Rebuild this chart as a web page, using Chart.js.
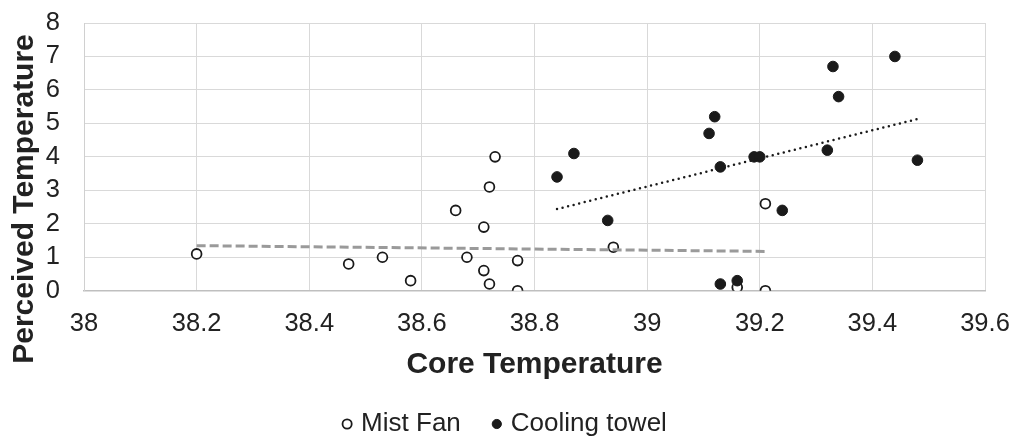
<!DOCTYPE html>
<html>
<head>
<meta charset="utf-8">
<title>Core vs perceived temperature</title>
<script src="https://cdn.jsdelivr.net/npm/chart.js@4.4.1/dist/chart.umd.min.js"></script>
<style>
  html, body { margin: 0; padding: 0; background: #fff; }
  #wrap { width: 1013px; height: 442px; }
</style>
</head>
<body>
<div id="wrap"><canvas id="chart" width="1013" height="442"></canvas></div>
<script>
// Mist Fan (open circles)
const mistCore = [38.2, 38.47, 38.53, 38.58, 38.66, 38.68, 38.71, 38.71, 38.72, 38.72, 38.73, 38.77, 38.77, 38.94, 39.16, 39.21, 39.21];
const mistPerceived = [1.1, 0.8, 1.0, 0.3, 2.4, 1.0, 1.9, 0.6, 3.1, 0.2, 4.0, 0.9, 0.0, 1.3, 0.1, 2.6, 0.0];

// Cooling towel (filled circles)
const towelCore = [38.84, 38.87, 38.93, 39.11, 39.12, 39.13, 39.13, 39.16, 39.19, 39.20, 39.24, 39.32, 39.33, 39.34, 39.44, 39.48];
const towelPerceived = [3.4, 4.1, 2.1, 4.7, 5.2, 3.7, 0.2, 0.3, 4.0, 4.0, 2.4, 4.2, 6.7, 5.8, 7.0, 3.9];

const seriesNames = ['Mist Fan', 'Cooling towel'];

const xTicks = [38, 38.2, 38.4, 38.6, 38.8, 39, 39.2, 39.4, 39.6];
const xTickLabels = ['38', '38.2', '38.4', '38.6', '38.8', '39', '39.2', '39.4', '39.6'];
const yTicks = [0, 1, 2, 3, 4, 5, 6, 7, 8];
const yTickLabels = ['0', '1', '2', '3', '4', '5', '6', '7', '8'];

const FONT = "'Liberation Sans', Arial, sans-serif";
const INK = '#222';

function toPoints(xs, ys) {
  return xs.map((x, i) => ({ x: x, y: ys[i] }));
}

// linear least-squares trendline, spanning the series' own x range
function trendline(xs, ys) {
  const n = xs.length;
  const mx = xs.reduce((a, b) => a + b, 0) / n;
  const my = ys.reduce((a, b) => a + b, 0) / n;
  let sxy = 0, sxx = 0;
  xs.forEach((x, i) => {
    sxy += (x - mx) * (ys[i] - my);
    sxx += (x - mx) * (x - mx);
  });
  const slope = sxy / sxx;
  const lo = Math.min(...xs), hi = Math.max(...xs);
  return [{ x: lo, y: my + slope * (lo - mx) }, { x: hi, y: my + slope * (hi - mx) }];
}

// y axis title sits a bit lower than the plot centre, like the original
const yTitlePlugin = {
  id: 'yTitle',
  afterDraw(chart, args, opts) {
    const ctx = chart.ctx;
    ctx.save();
    ctx.translate(opts.x, opts.y);
    ctx.rotate(-Math.PI / 2);
    ctx.font = 'bold 30px ' + FONT;
    ctx.fillStyle = INK;
    ctx.textAlign = 'center';
    ctx.textBaseline = 'middle';
    ctx.fillText(opts.text, 0, 0);
    ctx.restore();
  }
};

// keep the plot area where the layout padding puts it (no extra room for edge labels)
function noEdgePadding(s) {
  s.paddingLeft = 0;
  s.paddingRight = 0;
  s.paddingTop = 0;
  s.paddingBottom = 0;
}

Chart.defaults.font.family = FONT;
Chart.defaults.color = INK;

new Chart(document.getElementById('chart'), {
  type: 'scatter',
  data: {
    datasets: [
      {
        label: seriesNames[0],
        data: toPoints(mistCore, mistPerceived),
        pointStyle: 'circle',
        pointRadius: 4.9,
        pointHoverRadius: 4.9,
        backgroundColor: '#fff',
        borderColor: '#1a1a1a',
        borderWidth: 1.8,
        order: 3
      },
      {
        label: seriesNames[1],
        data: toPoints(towelCore, towelPerceived),
        pointStyle: 'circle',
        pointRadius: 5.3,
        pointHoverRadius: 5.3,
        backgroundColor: '#1a1a1a',
        borderColor: '#1a1a1a',
        borderWidth: 1,
        order: 2
      },
      {
        label: 'Mist Fan trend',
        data: trendline(mistCore, mistPerceived),
        showLine: true,
        pointRadius: 0,
        pointHoverRadius: 0,
        borderColor: '#9a9a9a',
        borderWidth: 3,
        borderDash: [9, 4],
        fill: false,
        order: 1
      },
      {
        label: 'Cooling towel trend',
        data: trendline(towelCore, towelPerceived),
        showLine: true,
        pointRadius: 0,
        pointHoverRadius: 0,
        borderColor: '#1a1a1a',
        borderWidth: 2.5,
        borderDash: [0, 5.7],
        borderCapStyle: 'round',
        fill: false,
        order: 0
      }
    ]
  },
  options: {
    responsive: false,
    animation: false,
    devicePixelRatio: 1,
    layout: { padding: { top: 23, right: 28, bottom: 0, left: 28 } },
    plugins: {
      tooltip: { enabled: false },
      legend: {
        position: 'bottom',
        maxHeight: 66,
        labels: {
          filter: item => item.datasetIndex < 2,
          sort: (a, b) => a.datasetIndex - b.datasetIndex,
          usePointStyle: true,
          pointStyle: 'circle',
          boxWidth: 2,
          boxHeight: 6.5,
          padding: 35,
          color: INK,
          font: { size: 26 }
        }
      },
      yTitle: { text: 'Perceived Temperature', x: 25, y: 199 }
    },
    scales: {
      x: {
        type: 'linear',
        min: 38,
        max: 39.6,
        afterBuildTicks: s => { s.ticks = xTicks.map(v => ({ value: v })); },
        afterFit: s => { s.height = 85.3; noEdgePadding(s); },
        grid: { color: '#d9d9d9', drawTicks: false },
        border: { color: '#bfbfbf', width: 1.5 },
        ticks: {
          padding: 17.5,
          autoSkip: false,
          maxRotation: 0,
          color: INK,
          font: { size: 25.5 },
          callback: (v, i) => xTickLabels[i]
        },
        title: {
          display: true,
          text: 'Core Temperature',
          color: INK,
          font: { size: 30, weight: 'bold' },
          padding: { top: 0, bottom: -6.5 }
        }
      },
      y: {
        type: 'linear',
        min: 0,
        max: 8,
        afterBuildTicks: s => { s.ticks = yTicks.map(v => ({ value: v })); },
        afterFit: s => { s.width = 56; noEdgePadding(s); },
        grid: { color: '#d9d9d9', drawTicks: false },
        border: { color: '#d0d0d0', width: 1 },
        ticks: {
          padding: 24,
          autoSkip: false,
          color: INK,
          font: { size: 25.5 },
          callback: (v, i) => yTickLabels[i]
        }
      }
    }
  },
  plugins: [yTitlePlugin]
});
</script>
</body>
</html>
